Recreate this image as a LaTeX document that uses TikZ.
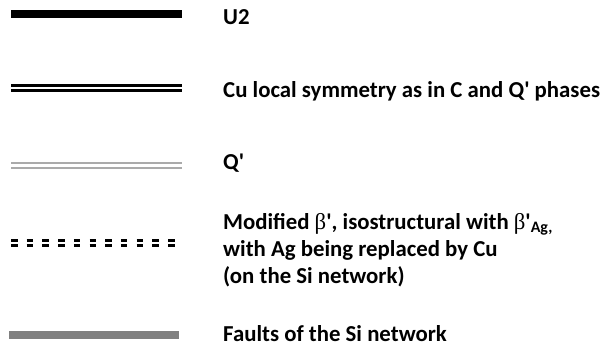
\documentclass[tikz,border=0pt]{standalone}
\usepackage{fontspec}
\setmainfont{Carlito}
\newfontfamily\grk{Liberation Serif}
\newcommand{\sq}{\textquotesingle}
\begin{document}
\begin{tikzpicture}[x=1pt,y=-1pt,
  lbl/.style={anchor=base west,inner sep=0pt,font=\fontsize{22.8}{27}\selectfont\bfseries,align=left},
  thickblack/.style={line width=8pt,black},
  dbl/.style={line width=3pt,black},
  dblgray/.style={line width=2.6pt,draw={rgb,255:red,170;green,170;blue,170}},
  dsh/.style={line width=3pt,black,dash pattern=on 6.5pt off 9.2pt},
  fault/.style={line width=8pt,draw={rgb,255:red,128;green,128;blue,128}}]
\useasboundingbox (0,0) rectangle (608,348);
% U2
\coordinate (a1) at (11,14); \coordinate (a2) at (182,14);
\draw[thickblack] (a1) -- (a2);
\node[lbl] (t1) at (223,24) {U2};
% double black
\coordinate (b1) at (11,85.5); \coordinate (b2) at (182,85.5);
\coordinate (b3) at (11,90.5); \coordinate (b4) at (182,90.5);
\draw[dbl] (b1) -- (b2);
\draw[dbl] (b3) -- (b4);
\node[lbl] (t2) at (223,97.5) {Cu local symmetry as in C and Q\sq{} phases};
% double gray
\coordinate (c1) at (11,163); \coordinate (c2) at (182,163);
\coordinate (c3) at (11,168); \coordinate (c4) at (182,168);
\draw[dblgray] (c1) -- (c2);
\draw[dblgray] (c3) -- (c4);
\node[lbl] (t3) at (223,169) {Q\sq};
% dashed double
\coordinate (d1) at (11,240.2); \coordinate (d2) at (178,240.2);
\coordinate (d3) at (11,245.5); \coordinate (d4) at (178,245.5);
\draw[dsh] (d1) -- (d2);
\draw[dsh] (d3) -- (d4);
\node[lbl] (t4) at (223,283) {Modified {\grk\mdseries β}\sq, isostructural with {\grk\mdseries β}\sq\textsubscript{Ag,}\\with Ag being replaced by Cu\\(on the Si network)};
% faults
\coordinate (e1) at (9,335); \coordinate (e2) at (179,335);
\draw[fault] (e1) -- (e2);
\node[lbl] (t5) at (223,341.5) {Faults of the Si network};
\end{tikzpicture}
\end{document}
